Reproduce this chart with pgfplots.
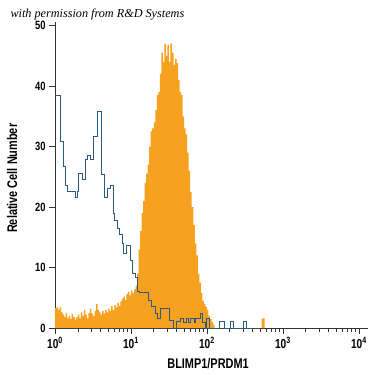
\documentclass[border=0pt]{standalone}
\usepackage{pgfplots}
\pgfplotsset{compat=1.18}
\usepackage{fontspec}
\setmainfont{Liberation Serif}
\newfontfamily\cond{Liberation Sans}[FakeStretch=0.78]
\definecolor{orng}{RGB}{247,161,32}
\definecolor{bl}{RGB}{45,90,130}
\definecolor{axc}{RGB}{50,50,50}
\begin{document}
\begin{tikzpicture}[x=1pt,y=1pt]
\begin{axis}[
 at={(0pt,0pt)}, anchor=south west, scale only axis,
 width=313pt, height=305.5pt,
 xmin=0, xmax=4.12, ymin=0, ymax=50.5,
 axis lines*=left, axis line style={-, axc, line width=0.8pt},
 xtick={0,1,2,3,4},
 xticklabels={10\textsuperscript{0},10\textsuperscript{1},10\textsuperscript{2},10\textsuperscript{3},10\textsuperscript{4}},
 minor xtick={0.301,0.477,0.602,0.699,0.778,0.845,0.903,0.954,
 1.301,1.477,1.602,1.699,1.778,1.845,1.903,1.954,
 2.301,2.477,2.602,2.699,2.778,2.845,2.903,2.954,
 3.301,3.477,3.602,3.699,3.778,3.845,3.903,3.954},
 ytick={0,10,20,30,40,50}, yticklabels={0,10,20,30,40,50},
 tick align=outside, major tick length=6pt, minor tick length=4pt,
 tick style={axc, line width=0.7pt},
 ticklabel style={font=\cond\bfseries\fontsize{12}{12}\selectfont, text=black},
 xticklabel style={font=\cond\bfseries\fontsize{13}{13}\selectfont},
 xlabel={BLIMP1/PRDM1}, ylabel={Relative Cell Number},
 every axis x label/.style={at={(axis description cs:0.489,-0.118)}, anchor=center, font=\cond\bfseries\fontsize{14}{14}\selectfont},
 every axis y label/.style={at={(axis description cs:-0.137,0.49)}, anchor=center, rotate=90, font=\cond\bfseries\fontsize{14}{14}\selectfont},
]
\addplot[const plot, fill=orng, draw=none] coordinates {
(0.00,3.3)(0.02,3.4)(0.04,3.0)(0.06,3.4)(0.08,2.6)(0.10,2.2)(0.12,1.8)(0.14,2.4)(0.16,1.6)(0.18,2.0)
(0.20,1.5)(0.22,2.3)(0.24,1.8)(0.26,1.4)(0.28,1.8)(0.30,2.2)(0.32,1.6)(0.34,2.6)(0.36,2.0)(0.38,3.0)
(0.40,2.2)(0.42,1.6)(0.44,2.5)(0.46,3.2)(0.48,2.4)(0.50,2.0)(0.52,2.8)(0.54,4.0)(0.56,3.0)(0.58,2.6)
(0.60,2.2)(0.62,2.8)(0.64,2.4)(0.66,3.0)(0.68,2.6)(0.70,3.2)(0.72,2.8)(0.74,3.6)(0.76,3.0)(0.78,3.8)
(0.80,3.4)(0.82,4.2)(0.84,3.6)(0.86,4.4)(0.88,4.8)(0.90,5.2)(0.92,4.6)(0.94,5.6)(0.96,6.0)(0.98,5.4)
(1.00,6.2)(1.02,5.8)(1.04,6.4)(1.06,7.0)(1.08,9.0)(1.10,13)(1.12,16)(1.14,19)(1.16,21)(1.18,24)
(1.20,25.5)(1.22,27)(1.24,30)(1.26,32.5)(1.28,33)(1.30,34)(1.32,36)(1.34,38.5)(1.36,39)(1.38,42)
(1.40,45.5)(1.42,44)(1.44,47)(1.46,45)(1.48,46.8)(1.50,44)(1.52,47)(1.54,45.5)(1.56,43.5)(1.58,44.5)
(1.60,43.8)(1.62,41)(1.64,39)(1.66,38.5)(1.68,35)(1.70,33)(1.72,32)(1.74,29)(1.76,26)(1.78,22.5)
(1.80,20)(1.82,17)(1.84,14)(1.86,12)(1.88,9)(1.90,7.5)(1.92,5.8)(1.94,4.5)(1.96,4.0)(1.98,3.5)
(2.00,3.0)(2.02,2.0)(2.04,1.5)(2.06,1.0)(2.08,0.5)(2.10,0)(2.72,1.6)(2.76,0)
} \closedcycle;
\addplot[const plot, draw=bl, line width=0.9pt] coordinates {
(0.000,38.5)(0.066,30.8)(0.105,26.7)(0.132,23.6)(0.158,22.5)(0.263,21.5)(0.289,22.5)(0.303,25.6)
(0.355,24.5)(0.395,27.8)(0.421,28.6)(0.461,27.8)(0.500,31.6)(0.553,35.8)(0.618,25.3)(0.645,21.5)
(0.684,23.1)(0.724,23.6)(0.763,19.0)(0.789,17.8)(0.816,16.5)(0.842,15.4)(0.882,14.0)(0.895,12.4)
(0.947,13.7)(0.987,11.2)(1.026,9.0)(1.053,8.3)(1.079,6.0)(1.118,5.8)(1.224,4.6)(1.276,3.5)
(1.316,2.4)(1.355,1.6)(1.382,3.3)(1.513,1.2)(1.553,0)(1.605,1.1)(1.645,1.5)(1.697,1.0)
(1.724,1.6)(1.763,1.0)(1.789,1.6)(1.829,1.0)(1.855,1.6)(1.908,2.4)(1.947,1.0)(1.974,0)
(2.000,1.5)(2.039,0)(2.171,1.1)(2.224,0)(2.303,1.1)(2.355,0)(2.474,1.1)(2.526,0)(2.600,0)
};
\end{axis}
\node[anchor=base west, font=\itshape\fontsize{12.2}{12.2}\selectfont] at (-48pt,310pt) {with permission from R\&D Systems};
\pgfresetboundingbox
\path (-55pt,-47pt) rectangle (320pt,328pt);
\end{tikzpicture}
\end{document}
